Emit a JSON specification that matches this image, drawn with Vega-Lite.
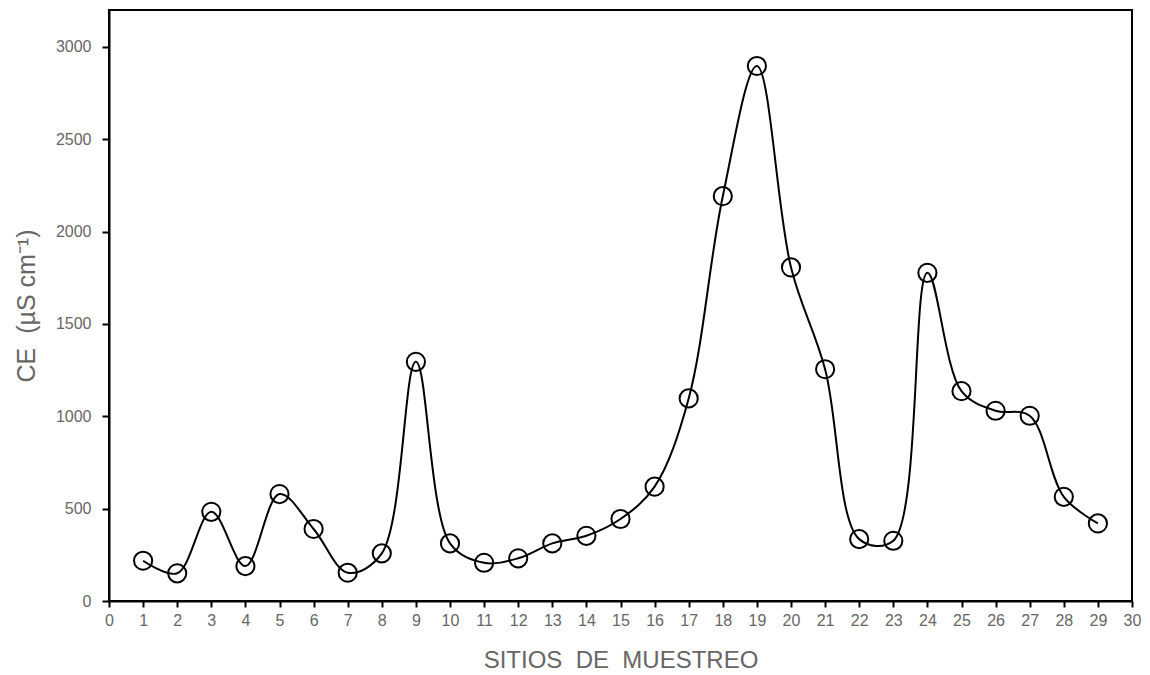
{
  "$schema": "https://vega.github.io/schema/vega-lite/v6.json",
  "width": 1023,
  "height": 591,
  "autosize": {"type": "none"},
  "padding": {"left": 109, "top": 10, "right": 18, "bottom": 74},
  "background": "white",
  "config": {
    "view": {"stroke": "black", "strokeWidth": 2},
    "font": "Liberation Sans"
  },
  "data": {
    "values": [
      {"sitio": 1, "ce": 218}, {"sitio": 2, "ce": 150}, {"sitio": 3, "ce": 483},
      {"sitio": 4, "ce": 189}, {"sitio": 5, "ce": 579}, {"sitio": 6, "ce": 390},
      {"sitio": 7, "ce": 153}, {"sitio": 8, "ce": 258}, {"sitio": 9, "ce": 1295},
      {"sitio": 10, "ce": 312}, {"sitio": 11, "ce": 207}, {"sitio": 12, "ce": 231},
      {"sitio": 13, "ce": 312}, {"sitio": 14, "ce": 353}, {"sitio": 15, "ce": 444},
      {"sitio": 16, "ce": 619}, {"sitio": 17, "ce": 1097}, {"sitio": 18, "ce": 2192},
      {"sitio": 19, "ce": 2897}, {"sitio": 20, "ce": 1806}, {"sitio": 21, "ce": 1255},
      {"sitio": 22, "ce": 335}, {"sitio": 23, "ce": 326}, {"sitio": 24, "ce": 1777},
      {"sitio": 25, "ce": 1136}, {"sitio": 26, "ce": 1030}, {"sitio": 27, "ce": 1003},
      {"sitio": 28, "ce": 564}, {"sitio": 29, "ce": 420}
    ]
  },
  "encoding": {
    "x": {
      "field": "sitio", "type": "quantitative",
      "scale": {"domain": [0, 30], "nice": false, "zero": false},
      "axis": {"values": [0,1,2,3,4,5,6,7,8,9,10,11,12,13,14,15,16,17,18,19,20,21,22,23,24,25,26,27,28,29,30],
               "format": "d", "tickSize": 6, "labelPadding": 5, "labelFlush": false,
               "domainColor": "black", "domainWidth": 2, "tickColor": "black", "tickWidth": 2,
               "labelColor": "#666666", "labelFontSize": 16, "labelFont": "Liberation Sans",
               "title": "SITIOS\u00a0 DE\u00a0 MUESTREO", "titlePadding": 20,
               "titleColor": "#666666", "titleFontSize": 24, "titleFont": "Liberation Sans", "titleFontWeight": "normal", "grid": false}
    },
    "y": {
      "field": "ce", "type": "quantitative",
      "scale": {"domain": [0, 3200], "nice": false},
      "axis": {"values": [0, 500, 1000, 1500, 2000, 2500, 3000], "format": "d", "tickSize": 7, "labelPadding": 11, "labelFlush": false,
               "domainColor": "black", "domainWidth": 2, "tickColor": "black", "tickWidth": 2,
               "labelColor": "#666666", "labelFontSize": 16, "labelFont": "Liberation Sans",
               "title": "CE\u00a0 (µS cm⁻¹)", "titlePadding": 16,
               "titleColor": "#666666", "titleFontSize": 25, "titleFont": "Liberation Sans", "titleFontWeight": "normal", "grid": false}
    }
  },
  "layer": [
    {"mark": {"type": "line", "interpolate": "catmull-rom", "color": "black", "strokeWidth": 2}},
    {"mark": {"type": "point", "shape": "circle", "filled": false, "size": 330, "stroke": "black", "strokeWidth": 2, "opacity": 1}}
  ]
}
